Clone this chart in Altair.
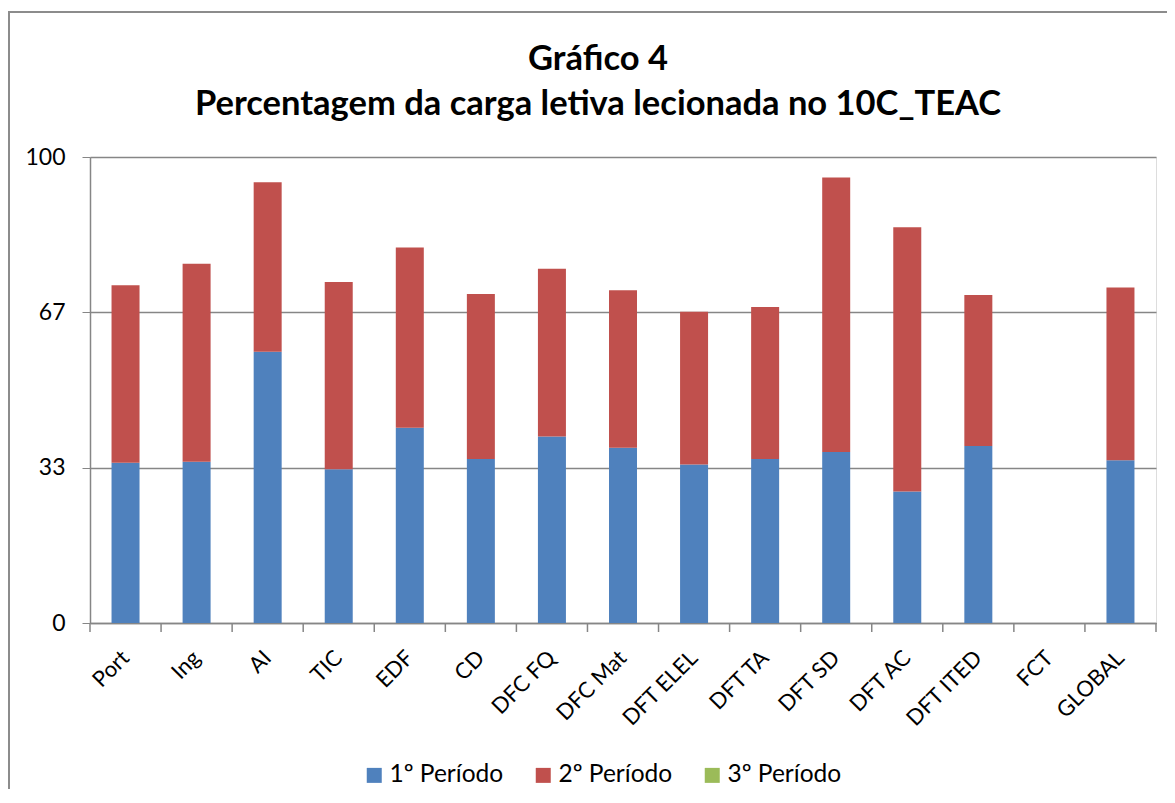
import altair as alt
import pandas as pd

categories = ["Port", "Ing", "AI", "TIC", "EDF", "CD", "DFC FQ", "DFC Mat",
              "DFT ELEL", "DFT TA", "DFT SD", "DFT AC", "DFT ITED", "FCT", "GLOBAL"]
periodo1 = [34.4, 34.6, 58.2, 33.0, 41.9, 35.2, 40.0, 37.6, 34.0, 35.2, 36.7, 28.2, 38.0, 0.0, 34.9]
periodo2 = [38.1, 42.5, 36.4, 40.2, 38.7, 35.4, 36.0, 33.8, 32.8, 32.6, 58.9, 56.7, 32.4, 0.0, 37.1]
periodo3 = [0.0] * 15
series = ["1º Período", "2º Período", "3º Período"]
colors = ["#4F81BD", "#C0504D", "#9BBB59"]
y_ticks = [0, 100 / 3, 200 / 3, 100]
title_lines = ["Gráfico 4", "Percentagem da carga letiva lecionada no 10C_TEAC"]

rows = []
for i, c in enumerate(categories):
    for k, vals in enumerate([periodo1, periodo2, periodo3]):
        rows.append({"cat": c, "serie": series[k], "ord": k, "valor": vals[i]})
df = pd.DataFrame(rows)
cats_df = pd.DataFrame({"cat": categories})
last_df = pd.DataFrame({"cat": categories[-1:]})

FONT = "Lato"
GRAY = "#868686"

x_enc = alt.X("cat:N", sort=categories, title=None,
              scale=alt.Scale(paddingInner=0, paddingOuter=0),
              axis=alt.Axis(labelAngle=-45, labelAlign="right", labelBaseline="middle",
                            labelFontSize=22, labelFont=FONT, labelColor="#000000",
                            labelPadding=31, ticks=False, domainColor=GRAY,
                            domainWidth=1.5, grid=False, labelOverlap=False))

bars = alt.Chart(df).mark_bar(size=28).encode(
    x=x_enc,
    y=alt.Y("valor:Q", stack="zero", title=None,
            scale=alt.Scale(domain=[0, 100], nice=False),
            axis=alt.Axis(values=y_ticks, format=".0f", labelFontSize=23, labelFont=FONT,
                          labelColor="#000000", labelPadding=17, tickSize=8,
                          tickColor=GRAY, domainColor=GRAY, domainWidth=1.5,
                          gridColor=GRAY, gridWidth=1.5)),
    color=alt.Color("serie:N", scale=alt.Scale(domain=series, range=colors),
                    legend=alt.Legend(title=None, orient="none", direction="horizontal",
                                      legendX=272, legendY=606, symbolType="square",
                                      symbolSize=225, symbolStrokeWidth=0,
                                      labelFontSize=24.5, labelFont=FONT, labelColor="#000000",
                                      labelOffset=3, columnPadding=27, padding=0)),
    order=alt.Order("ord:Q"),
)

ticks = alt.Chart(cats_df).mark_rule(color=GRAY, strokeWidth=1.5).encode(
    x=alt.X("cat:N", sort=categories, bandPosition=0),
    y=alt.value(466), y2=alt.value(475),
)
ticks_end = alt.Chart(last_df).mark_rule(color=GRAY, strokeWidth=1.5).encode(
    x=alt.X("cat:N", sort=categories, bandPosition=1),
    y=alt.value(466), y2=alt.value(475),
)
frame_top = alt.Chart(last_df).mark_rule(color="#8C8C8C", strokeWidth=2, clip=False).encode(
    x=alt.value(-81), x2=alt.value(1100), y=alt.value(-145),
)
frame_left = alt.Chart(last_df).mark_rule(color="#8C8C8C", strokeWidth=2, clip=False).encode(
    x=alt.value(-81), y=alt.value(-146), y2=alt.value(700),
)

title_df = pd.DataFrame({"t": title_lines, "ypos": [-87, -42]})
title = alt.Chart(title_df).mark_text(font=FONT, fontSize=34.5, fontWeight="bold", color="#000000",
                                      align="center", baseline="alphabetic").encode(
    text="t:N", x=alt.value(508), y=alt.Y("ypos:Q", scale=None),
)

chart = alt.layer(frame_top, frame_left, bars, ticks, ticks_end, title).properties(
    width=1066, height=466,
    autosize=alt.AutoSizeParams(type="none"),
    padding={"left": 82, "top": 149, "right": 11, "bottom": 166},
).configure_view(stroke=None).configure(background="#FFFFFF")

chart.save("out.html", embed_options={"renderer": "svg", "actions": False})
